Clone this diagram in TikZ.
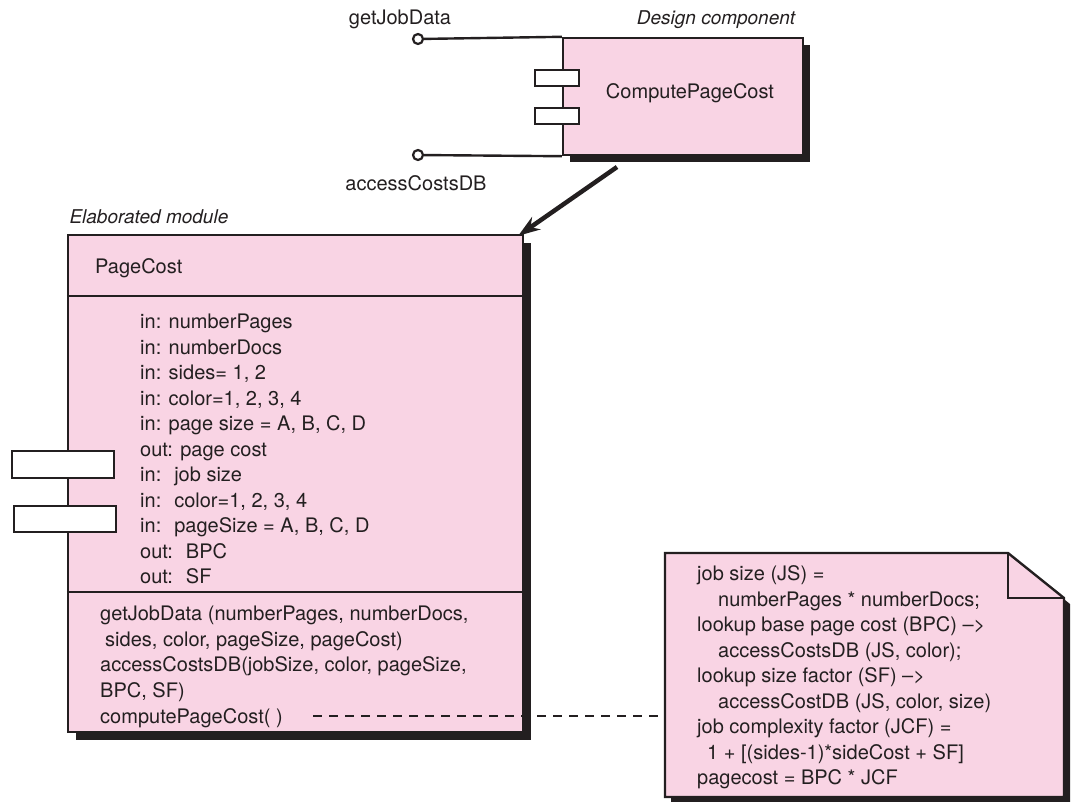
\documentclass[tikz,border=0pt]{standalone}
\usepackage{fontspec}
\setmainfont{TeX Gyre Heros}
\usepackage{xcolor}
\usepackage{tikz}
\usetikzlibrary{arrows.meta,shadows,positioning,calc}
\definecolor{notepink}{RGB}{249,212,228}
\definecolor{inkgray}{RGB}{35,31,32}

\begin{document}
\begin{tikzpicture}[x=1pt, y=-1pt,
  every node/.style={font=\fontsize{20}{25.5}\selectfont, text=inkgray},
  box/.style={draw=inkgray, line width=2.4pt, fill=notepink,
    drop shadow={opacity=1, fill=inkgray, shadow xshift=#1, shadow yshift=-#1}},
  box/.default=7pt,
  port/.style={draw=inkgray, line width=2.4pt, fill=white, inner sep=0pt},
  lbl/.style={font=\fontsize{19}{22}\selectfont\itshape},
  txt/.style={align=left, inner sep=0pt, anchor=west},
  lolly/.style={circle, draw=inkgray, line width=2.2pt, fill=white, minimum size=10pt, inner sep=0pt},
  wire/.style={draw=inkgray, line width=2.4pt},
  arrow/.style={-{Stealth[length=22pt,width=15pt]}, line width=4.5pt, draw=inkgray},
  link/.style={draw=inkgray, line width=2.2pt, dash pattern=on 9pt off 7pt}
]
  \useasboundingbox (0,0) rectangle (1071,801);

  % design component
  \node[box, minimum width=240pt, minimum height=117pt] (comp) at (683,96.5) {};
  \node (compname) at (690,93) {ComputePageCost};
  \node[port, minimum width=44pt, minimum height=16pt] (cport1) at (557,78) {};
  \node[port, minimum width=44pt, minimum height=16pt] (cport2) at (557,116) {};
  \node[lolly] (gjdEnd) at (418,39) {};
  \node[lolly] (acdEnd) at (418,155) {};
  \draw[wire] (gjdEnd) -- (comp.north west);
  \draw[wire] (acdEnd) -- (comp.south west);
  \node (gjdLabel) at (400,19) {getJobData};
  \node (acdLabel) at (416,183) {accessCostsDB};
  \node[lbl] (compTitle) at (716,20) {Design component};

  % elaborated module
  \node[box=8pt, minimum width=455pt, minimum height=497pt] (mod) at (295.5,483.5) {};
  \draw[wire] (mod.west |- 0,296) -- (mod.east |- 0,296);
  \draw[wire] (mod.west |- 0,592) -- (mod.east |- 0,592);
  \node[lbl, anchor=west] (modTitle) at (66,217) {Elaborated module};
  \node[txt] (modname) at (95,268) {PageCost};
  \node[txt] (attrs) at (140,449) {in: numberPages\\in: numberDocs\\in: sides= 1, 2\\in: color=1, 2, 3, 4\\in: page size = A, B, C, D\\out: page cost\\in:~ job size\\in:~ color=1, 2, 3, 4\\in:~ pageSize = A, B, C, D\\out:~ BPC\\out:~ SF};
  \node[txt] (ops) at (100,654) {getJobData (numberPages, numberDocs,\\\hspace*{5pt}sides, color, pageSize, pageCost)\\accessCostsDB(jobSize, color, pageSize,\\BPC, SF)};
  \node[txt] (cpc) at (100,718) {computePageCost( )};
  \node[port, minimum width=102pt, minimum height=27pt] (mport1) at (63,464.5) {};
  \node[port, minimum width=102pt, minimum height=26pt] (mport2) at (65,519) {};

  % note
  \filldraw[box=6pt] (665,553) -- (1008,553) -- (1064,598) -- (1064,797) -- (665,797) -- cycle;
  \draw[wire] (1008,553) -- (1008,598) -- (1064,598);
  \node[txt] (notetext) at (697,677.5) {job size (JS) =\\\hspace*{21pt}numberPages * numberDocs;\\lookup base page cost (BPC) -->\\\hspace*{21pt}accessCostsDB (JS, color);\\lookup size factor (SF) -->\\\hspace*{21pt}accessCostDB (JS, color, size)\\job complexity factor (JCF) =\\\hspace*{10pt}1 + [(sides-1)*sideCost + SF]\\pagecost = BPC * JCF};

  \coordinate (arrowTail) at (617,167);
  \coordinate (dashStart) at (313,716);
  \coordinate (noteW) at (665,716);
  \draw[arrow] (arrowTail) -- ([shift={(-6,2)}]mod.north east);
  \draw[link] (dashStart) -- (noteW);
\end{tikzpicture}
\end{document}
